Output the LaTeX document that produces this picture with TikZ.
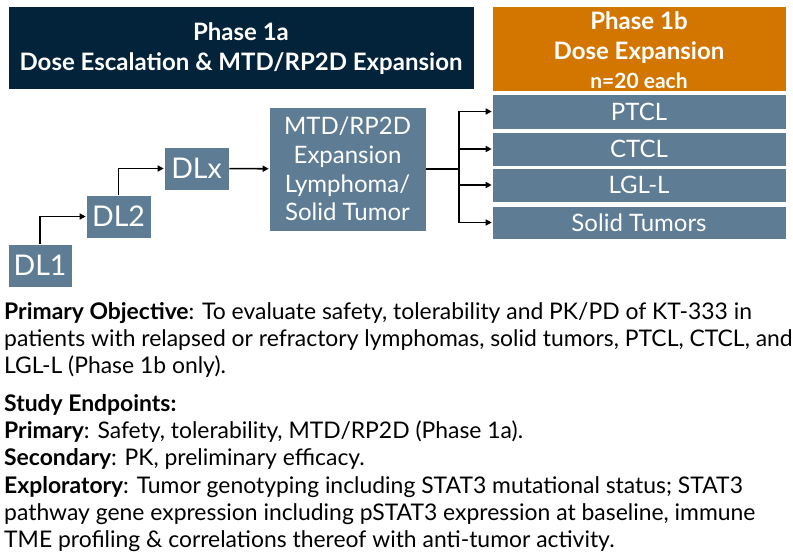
\documentclass[tikz,border=0pt]{standalone}
\usepackage{fontspec}
\setmainfont{Lato}
\usetikzlibrary{arrows.meta}

\definecolor{navy}{HTML}{03233A}
\definecolor{amber}{HTML}{D37600}
\definecolor{slate}{HTML}{5E7D94}

\tikzset{
  banner/.style={fill=#1, text=white, draw=white, line width=0.6pt, align=center,
    font=\fontsize{24}{29.5}\selectfont\bfseries, inner sep=0pt},
  dose/.style={fill=slate, text=white, draw=white, line width=0.6pt, align=center,
    inner sep=0pt},
  level/.style={dose, minimum height=43, font=\fontsize{28.5}{32}\selectfont},
  arm/.style={dose, minimum width=294, font=\fontsize{24}{28}\selectfont},
  flow/.style={-{Triangle[length=6pt,width=6pt]}, line width=1.6pt},
  para/.style={anchor=north west, align=left, inner sep=0pt, font=\fontsize{22.9}{27.3}\selectfont},
}

\begin{document}
\begin{tikzpicture}[x=1pt,y=-1pt]

\useasboundingbox (0,0) rectangle (793,556);

% headers
\node [banner=navy, minimum width=466, minimum height=83] (phaseA) at (241,47.5)
  {\rule{0pt}{20pt}Phase 1a\\Dose Escalation \& MTD/RP2D Expansion};
\node [banner=amber, minimum width=294, minimum height=85] (phaseB) at (639,48.5)
  {\rule{0pt}{22pt}Phase 1b\\Dose Expansion\\{\fontsize{21}{26}\selectfont n=20 each}};

% dose levels
\node [level, minimum width=64] (dlA) at (40,265.5) {DL1};
\node [level, minimum width=65] (dlB) at (118.5,216.5) {DL2};
\node [level, minimum width=65] (dlX) at (196.5,168.5) {DLx};
\node [dose, minimum width=157, minimum height=124, font=\fontsize{24}{28.7}\selectfont] (mtd) at (347.5,169)
  {MTD/RP2D\\Expansion\\Lymphoma/\\Solid Tumor};

% expansion arms
\node [arm, minimum height=35] (ptcl) at (639,111.5) {PTCL};
\node [arm, minimum height=34] (ctcl) at (639,149) {CTCL};
\node [arm, minimum height=34] (lgl) at (639,185) {LGL-L};
\node [arm, minimum height=33] (solid) at (639,222.5) {Solid Tumors};

\coordinate (split) at (459,169);

\draw[flow] (dlA.north) |- (dlB.west);
\draw[flow] (dlB.north) |- (dlX.west);
\draw[flow] (dlX) -- (mtd);
\draw[line width=1.6pt] (mtd.east) -- (split);
\draw[flow] (split) |- (ptcl.west);
\draw[flow] (split) |- (ctcl.west);
\draw[flow] (split) |- (lgl.west);
\draw[flow] (split) |- (solid.west);

% text
\node [para] (objective) at (4,302)
  {\textbf{Primary Objective}: To evaluate safety, tolerability and PK/PD of KT-333 in\\
   patients with relapsed or refractory lymphomas, solid tumors, PTCL, CTCL, and\\
   LGL-L (Phase 1b only).};
\node [para] (endpoints) at (4,394)
  {\textbf{Study Endpoints:}\\
   \textbf{Primary}: Safety, tolerability, MTD/RP2D (Phase 1a).\\
   \textbf{Secondary}: PK, preliminary efficacy.\\
   \textbf{Exploratory}: Tumor genotyping including STAT3 mutational status; STAT3\\
   pathway gene expression including pSTAT3 expression at baseline, immune\\
   TME profiling \& correlations thereof with anti-tumor activity.};

\end{tikzpicture}
\end{document}
